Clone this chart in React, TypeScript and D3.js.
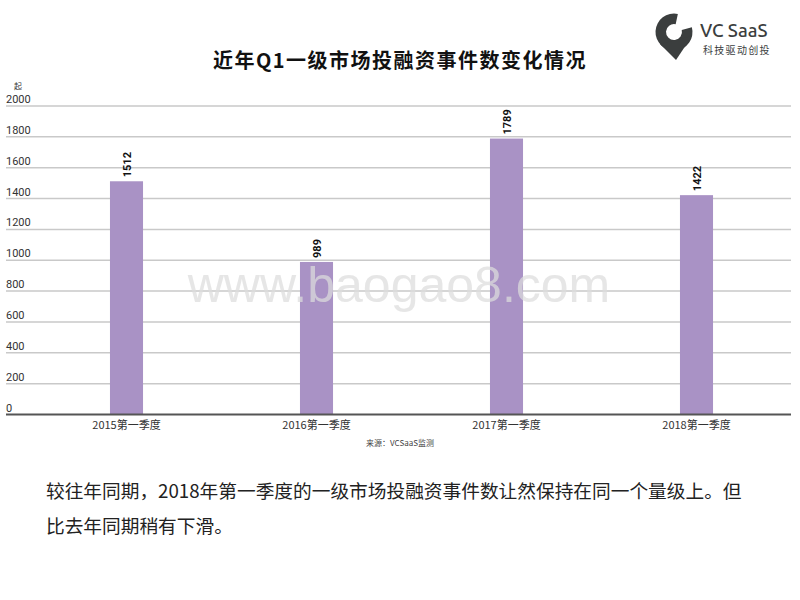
import React from "react";
import * as d3 from "d3";

const categories = ["2015第一季度", "2016第一季度", "2017第一季度", "2018第一季度"];
const values = [1512, 989, 1789, 1422];
const yTicks = [0, 200, 400, 600, 800, 1000, 1200, 1400, 1600, 1800, 2000];
const titleText = "近年Q1一级市场投融资事件数变化情况";
const unitText = "起";
const sourceText = "来源：VCSaaS监测";
const bodyLine1 = "较往年同期，2018年第一季度的一级市场投融资事件数让然保持在同一个量级上。但";
const bodyLine2 = "比去年同期稍有下滑。";

const CJK = '"Noto Sans CJK SC", "Noto Sans", sans-serif';
const NUM = 'Roboto, "Noto Sans", sans-serif';

export default function App() {
  const W = 800, H = 600;
  const x = d3.scaleBand<string>().domain(categories).range([31.5, 791.5]).paddingInner(0.826).paddingOuter(0.413);
  const y = d3.scaleLinear().domain([0, 2000]).range([414.5, 106]);
  const gridX0 = 6, gridX1 = 791;

  const ringArc = d3.arc<any>()({
    innerRadius: 8,
    outerRadius: 18.5,
    startAngle: (75 * Math.PI) / 180,
    endAngle: (372 * Math.PI) / 180,
  }) as string;

  return (
    <svg width={W} height={H} style={{ position: "absolute", left: 0, top: 0, background: "#fff" }}>
      <rect width={W} height={H} fill="#fff" />
      {/* title */}
      <text x={400} y={68} textAnchor="middle" fontFamily={CJK} fontWeight={700} fontSize={20} letterSpacing={1.5} fill="#111">
        {titleText}
      </text>
      {/* logo */}
      <g transform="translate(674,32)" fill="#3b3e3e">
        <path d={ringArc} />
        <path d="M -14 12 L 18 4 L 2 28 Z" />
      </g>
      <text x={700} y={37} fontFamily='Ubuntu, "Open Sans", "Noto Sans", sans-serif' fontSize={18.5} fontWeight={500} fill="#3b3e3e">
        VC SaaS
      </text>
      <text x={703} y={54} fontFamily={CJK} fontSize={10} fill="#3b3e3e" letterSpacing={1.3}>
        科技驱动创投
      </text>
      {/* unit */}
      <text x={14} y={89} fontFamily={CJK} fontSize={8} fill="#333">
        {unitText}
      </text>
      {/* grid */}
      {yTicks.map((t) => (
        <g key={t}>
          {t !== 0 && (
            <line x1={gridX0} x2={gridX1} y1={y(t)} y2={y(t)} stroke="#c9c9c9" strokeWidth={1.5} />
          )}
          <text x={6} y={y(t) - 3} fontFamily={NUM} fontSize={11} fill="#333">
            {t}
          </text>
        </g>
      ))}
      {/* bars */}
      {categories.map((c, i) => {
        const bx = x(c)!;
        const bw = x.bandwidth();
        const top = y(values[i]);
        const cx = bx + bw / 2;
        return (
          <g key={c}>
            <rect x={bx} y={top} width={bw} height={y(0) - top} fill="#a992c5" />
            <text
              transform={`translate(${cx + 4},${top - 4}) rotate(-90)`}
              fontFamily={NUM}
              fontWeight={700}
              fontSize={11}
              fill="#111"
            >
              {values[i]}
            </text>
          </g>
        );
      })}
      {/* baseline axis */}
      <line x1={gridX0} x2={gridX1} y1={y(0)} y2={y(0)} stroke="#555" strokeWidth={2} />
      {categories.map((c) => (
        <text key={c} x={x(c)! + x.bandwidth() / 2} y={429} textAnchor="middle" fontFamily={CJK} fontSize={11} fill="#333">
          {c}
        </text>
      ))}
      <text x={400} y={446} textAnchor="middle" fontFamily={CJK} fontSize={8} fill="#444">
        {sourceText}
      </text>
      {/* watermark */}
      <text x={399} y={302} textAnchor="middle" fontFamily='"Liberation Sans", Arial, sans-serif' fontSize={50} fill="#dcdcdc" fillOpacity={0.72}>
        www.baogao8.com
      </text>
      {/* body */}
      <text x={46} y={498} fontFamily={CJK} fontSize={18.7} fill="#222">
        {bodyLine1}
      </text>
      <text x={46} y={533} fontFamily={CJK} fontSize={18.7} fill="#222">
        {bodyLine2}
      </text>
    </svg>
  );
}
